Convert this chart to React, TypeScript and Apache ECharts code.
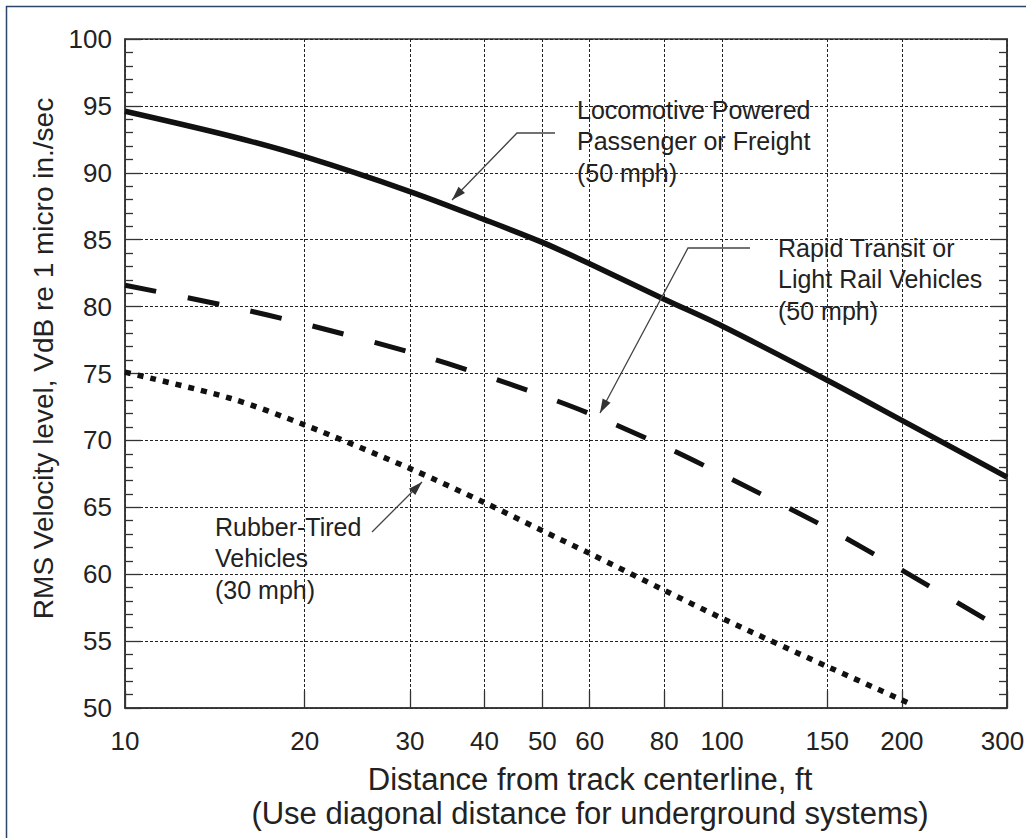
import React, { useEffect, useRef } from "react";
import * as echarts from "echarts";

// ---- Data ----
const distances = [10, 15, 20, 30, 40, 50, 60, 80, 100, 150, 200, 300];
const locomotive = [94.6, 92.75, 91.2, 88.6, 86.5, 84.8, 83.2, 80.55, 78.55, 74.5, 71.5, 67.25];
const rapidTransit = [81.6, 80.0, 78.7, 76.6, 74.85, 73.35, 72.0, 69.55, 67.45, 63.45, 60.3, 55.7];
const rubberDistances = [10, 15, 20, 30, 40, 50, 60, 80, 100, 150, 200, 208];
const rubberTired = [75.1, 73.15, 71.15, 67.9, 65.35, 63.25, 61.55, 58.8, 56.7, 53.1, 50.6, 50.25];

const xTickValues = [10, 20, 30, 40, 50, 60, 80, 100, 150, 200, 300];
const yMin = 50;
const yMax = 100;
const yStep = 5;

const xAxisTitle = "Distance from track centerline, ft\n(Use diagonal distance for underground systems)";
const yAxisTitle = "RMS Velocity level, VdB re 1 micro in./sec";

const annotationLoco = "Locomotive Powered\nPassenger or Freight\n(50 mph)";
const annotationRapid = "Rapid Transit or\nLight Rail Vehicles\n(50 mph)";
const annotationRubber = "Rubber-Tired\nVehicles\n(30 mph)";

const FONT = '"Liberation Sans", Arial, sans-serif';
const TEXT = "#222";

function arrowHead(from: number[], tip: number[]) {
  const dx = tip[0] - from[0];
  const dy = tip[1] - from[1];
  const len = Math.sqrt(dx * dx + dy * dy);
  const ux = dx / len;
  const uy = dy / len;
  const bx = tip[0] - ux * 14;
  const by = tip[1] - uy * 14;
  const nx = -uy * 4.5;
  const ny = ux * 4.5;
  return {
    type: "polygon",
    shape: { points: [tip, [bx + nx, by + ny], [bx - nx, by - ny]] },
    style: { fill: "#333" },
    z: 10,
  };
}

function arrow(points: number[][]) {
  const n = points.length;
  return [
    {
      type: "polyline",
      shape: { points },
      style: { stroke: "#444", lineWidth: 1.3, fill: "none" },
      z: 10,
    },
    arrowHead(points[n - 2], points[n - 1]),
  ];
}

function label(text: string, x: number, y: number) {
  return {
    type: "text",
    x,
    y,
    z: 10,
    style: {
      text,
      fill: TEXT,
      fontFamily: FONT,
      fontSize: 25,
      lineHeight: 31.5,
      verticalAlign: "top",
      align: "left",
    },
  };
}

export default function App() {
  const ref = useRef<HTMLDivElement>(null);

  useEffect(() => {
    document.body.style.margin = "0";
    document.body.style.overflow = "hidden";
    document.documentElement.style.overflow = "hidden";
    if (!ref.current) return;
    const chart = echarts.init(ref.current, null, { renderer: "svg" });

    const gridLine = { show: true, lineStyle: { color: "#222", width: 1, type: [3, 2] } };

    const yAxisCommon = {
      type: "value",
      min: yMin,
      max: yMax,
      interval: yStep,
      axisLine: { show: true, lineStyle: { color: "#333", width: 1.5 } },
      axisTick: { show: true, inside: true, length: 16, lineStyle: { color: "#333", width: 1.3 } },
      minorTick: { show: true, splitNumber: 5, length: 8, lineStyle: { color: "#333", width: 1.3 } },
    };

    const lastTick = xTickValues[xTickValues.length - 1];

    chart.setOption({
      animation: false,
      backgroundColor: "#fff",
      textStyle: { fontFamily: FONT },
      grid: {
        left: 125,
        top: 39,
        right: 19,
        bottom: 130,
        show: true,
        borderColor: "#333",
        borderWidth: 1.5,
        containLabel: false,
        outerBoundsMode: "none",
      },
      xAxis: {
        type: "log",
        logBase: 10,
        min: 10,
        max: 300,
        name: xAxisTitle,
        nameLocation: "middle",
        nameGap: 54,
        nameTextStyle: {
          color: TEXT,
          fontSize: 31,
          lineHeight: 34,
          fontFamily: FONT,
          padding: [0, 0, 0, 48],
        },
        axisLine: { show: true, lineStyle: { color: "#333", width: 1.5 } },
        axisTick: {
          show: true,
          inside: true,
          length: 17,
          customValues: xTickValues,
          lineStyle: { color: "#333", width: 1.3 },
        },
        minorTick: { show: false },
        axisLabel: {
          show: true,
          customValues: xTickValues,
          color: TEXT,
          fontSize: 26,
          fontFamily: FONT,
          margin: 20,
          formatter: (v: number) => {
            const s = String(Math.round(v));
            return Math.round(v) === lastTick ? "{last|" + s + "}" : s;
          },
          rich: {
            last: {
              color: TEXT,
              fontSize: 26,
              fontFamily: FONT,
              padding: [0, 9, 0, 0],
            },
          },
        },
        splitLine: gridLine,
        minorSplitLine: { show: false },
      },
      yAxis: [
        {
          ...yAxisCommon,
          position: "left",
          name: yAxisTitle,
          nameLocation: "middle",
          nameGap: 61,
          nameTextStyle: {
            color: TEXT,
            fontSize: 28,
            fontFamily: FONT,
            padding: [0, 0, 0, 30],
          },
          axisLabel: { show: true, color: TEXT, fontSize: 26, fontFamily: FONT, margin: 13 },
          splitLine: gridLine,
        },
        {
          ...yAxisCommon,
          position: "right",
          axisLabel: { show: false },
          splitLine: { show: false },
        },
      ],
      series: [
        {
          name: "Locomotive Powered Passenger or Freight (50 mph)",
          type: "line",
          data: distances.map((d, i) => [d, locomotive[i]]),
          smooth: 0.3,
          showSymbol: false,
          lineStyle: { color: "#111", width: 5.5 },
          z: 5,
        },
        {
          name: "Rapid Transit or Light Rail Vehicles (50 mph)",
          type: "line",
          data: distances.map((d, i) => [d, rapidTransit[i]]),
          smooth: 0.3,
          showSymbol: false,
          lineStyle: { color: "#111", width: 5, type: [32, 32], cap: "butt" },
          z: 5,
        },
        {
          name: "Rubber-Tired Vehicles (30 mph)",
          type: "line",
          data: rubberDistances.map((d, i) => [d, rubberTired[i]]),
          smooth: 0.3,
          showSymbol: false,
          lineStyle: { color: "#111", width: 5.5, type: [6, 7], cap: "butt" },
          z: 5,
        },
      ],
      graphic: [
        {
          type: "rect",
          shape: { x: 6.5, y: 6.5, width: 1200, height: 1000 },
          style: { fill: "none", stroke: "#2b4566", lineWidth: 1.5 },
          z: 20,
        },
        label(annotationLoco, 577, 94),
        label(annotationRapid, 778, 232),
        label(annotationRubber, 215, 511),
        ...arrow([[555, 133], [517, 133], [452, 200]]),
        ...arrow([[750, 248], [688, 248], [600, 413]]),
        ...arrow([[372, 532], [422, 482]]),
      ],
    });

    return () => chart.dispose();
  }, []);

  return <div ref={ref} style={{ width: 1026, height: 838 }} />;
}
